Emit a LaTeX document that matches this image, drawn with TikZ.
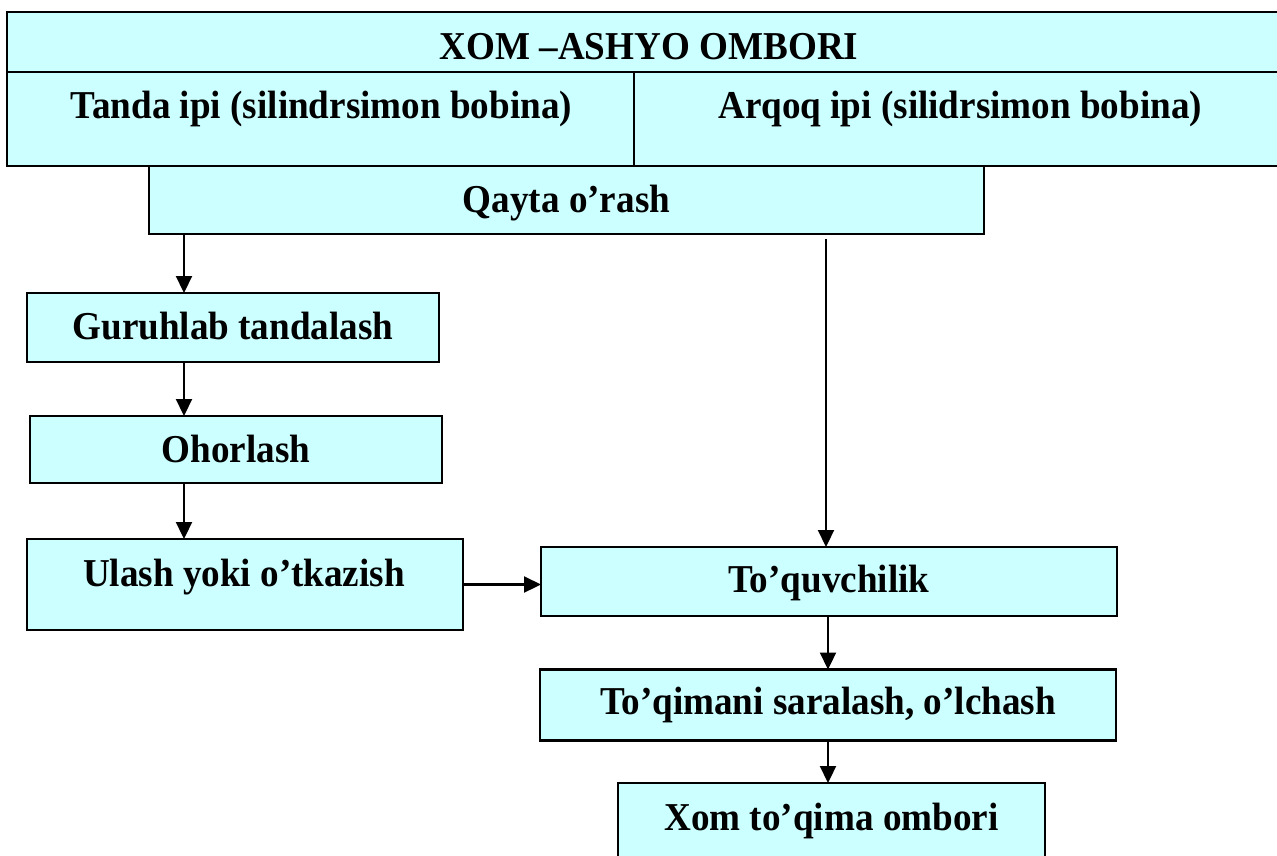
\documentclass[tikz,border=0pt]{standalone}
\usepackage{fontspec}
\setmainfont{Liberation Serif}
\newfontfamily\lblfont{Liberation Serif}[FakeStretch=0.94]
\usetikzlibrary{arrows.meta}
\definecolor{boxfill}{HTML}{CCFFFF}
\begin{document}
\begin{tikzpicture}[x=1pt,y=-1pt,
  box/.style={draw=black,line width=2.3pt,fill=boxfill,inner sep=0pt,outer sep=0pt},
  lbl/.style={anchor=base,inner sep=0pt,font=\lblfont\fontsize{39.5}{46}\selectfont\bfseries},
  arr/.style={draw=black,line width=2.2pt,-{Triangle[length=17pt,width=16pt]}}]
\useasboundingbox (0,0) rectangle (1277,855);
\clip (0,0) rectangle (1277,855);
% top store box
\node[box,minimum width=1284pt,minimum height=60pt] (store) at (649,42) {};
\node[box,minimum width=627pt,minimum height=94pt] (tanda) at (320.5,119) {};
\node[box,minimum width=657pt,minimum height=94pt] (arqoq) at (962.5,119) {};
\node[box,minimum width=835pt,minimum height=68pt] (qayta) at (566.5,200) {};
\node[box,minimum width=412pt,minimum height=69pt] (guru) at (233,327.5) {};
\node[box,minimum width=412pt,minimum height=67pt] (ohor) at (236,449.5) {};
\node[box,minimum width=436pt,minimum height=91pt] (ulash) at (245,584.5) {};
\node[box,minimum width=576pt,minimum height=69pt] (toquv) at (829,581.5) {};
\node[box,minimum width=576pt,minimum height=71pt] (toqim) at (828,705) {};
\node[box,minimum width=427pt,minimum height=74pt] (xom) at (831.5,820) {};
% texts
\node[lbl] (tstore) at (649,59) {XOM –ASHYO OMBORI};
\node[lbl] (ttanda) at (321.5,118) {Tanda ipi (silindrsimon bobina)};
\node[lbl] (tarqoq) at (960.5,118) {Arqoq ipi (silidrsimon bobina)};
\node[lbl] (tqayta) at (566.5,212) {Qayta o’rash};
\node[lbl] (tguru) at (233,339) {Guruhlab tandalash};
\node[lbl] (tohor) at (236,462.5) {Ohorlash};
\node[lbl] (tulash) at (244,586) {Ulash yoki o’tkazish};
\node[lbl] (ttoquv) at (829,592.5) {To’quvchilik};
\node[lbl] (ttoqim) at (828,714) {To’qimani saralash, o’lchash};
\node[lbl] (txom) at (831.5,830) {Xom to’qima ombori};
% connectors
\coordinate (lx) at (184,0);
\coordinate (bx) at (828,0);
\coordinate (rstart) at (826,239);
\draw[arr] (lx |- qayta.south) -- (lx |- guru.north);
\draw[arr] (lx |- guru.south) -- (lx |- ohor.north);
\draw[arr] (lx |- ohor.south) -- (lx |- ulash.north);
\draw[arr] (ulash.east) -- (ulash.east -| toquv.west);
\draw[arr] (rstart) -- (rstart |- toquv.north);
\draw[arr] (bx |- toquv.south) -- (bx |- toqim.north);
\draw[arr] (bx |- toqim.south) -- (bx |- xom.north);
\end{tikzpicture}
\end{document}
